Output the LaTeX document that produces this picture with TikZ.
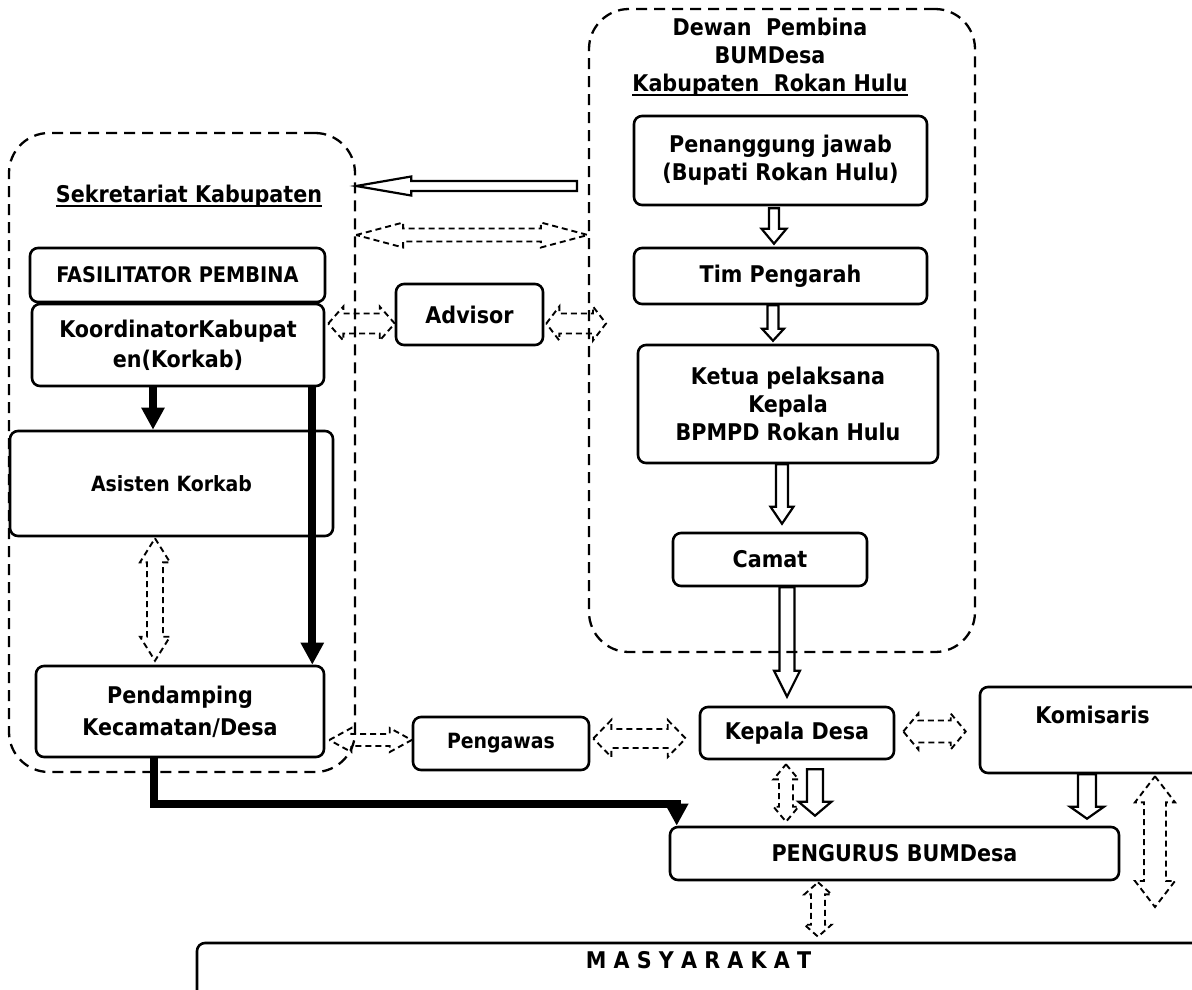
\documentclass[tikz,border=0pt]{standalone}
\usepackage{fontspec}
\setmainfont{DejaVu Sans Condensed}[BoldFont={DejaVu Sans Condensed Bold}]
\usetikzlibrary{calc,arrows.meta}
\newsavebox{\ulbox}
\newcommand{\myulb}[1]{\sbox\ulbox{#1}\rlap{\rule[-5pt]{\wd\ulbox}{2pt}}\usebox\ulbox}
% hollow single arrow pointing down: #1 start, #2 end (only y used), #3 shaft half, #4 head half, #5 head length, #6 style
\newcommand{\blkdown}[6]{\draw[#6] let \p1=#1, \p2=#2 in (\x1-#3pt,\y1) -- (\x1-#3pt,\y2+#5pt) -- (\x1-#4pt,\y2+#5pt) -- (\x1,\y2) -- (\x1+#4pt,\y2+#5pt) -- (\x1+#3pt,\y2+#5pt) -- (\x1+#3pt,\y1) -- cycle;}
% hollow single arrow pointing left: #1 start (right), #2 tip (only x used)
\newcommand{\blkleft}[6]{\draw[#6] let \p1=#1, \p2=#2 in (\x1,\y1+#3pt) -- (\x2+#5pt,\y1+#3pt) -- (\x2+#5pt,\y1+#4pt) -- (\x2,\y1) -- (\x2+#5pt,\y1-#4pt) -- (\x2+#5pt,\y1-#3pt) -- (\x1,\y1-#3pt) -- cycle;}
% double headed horizontal: #1 left tip, #2 right tip (only x used)
\newcommand{\dblh}[6]{\draw[#6] let \p1=#1, \p2=#2 in (\x1,\y1) -- (\x1+#5pt,\y1+#4pt) -- (\x1+#5pt,\y1+#3pt) -- (\x2-#5pt,\y1+#3pt) -- (\x2-#5pt,\y1+#4pt) -- (\x2,\y1) -- (\x2-#5pt,\y1-#4pt) -- (\x2-#5pt,\y1-#3pt) -- (\x1+#5pt,\y1-#3pt) -- (\x1+#5pt,\y1-#4pt) -- cycle;}
% double headed vertical: #1 top tip, #2 bottom tip (only y used)
\newcommand{\dblv}[6]{\draw[#6] let \p1=#1, \p2=#2 in (\x1,\y1) -- (\x1+#4pt,\y1-#5pt) -- (\x1+#3pt,\y1-#5pt) -- (\x1+#3pt,\y2+#5pt) -- (\x1+#4pt,\y2+#5pt) -- (\x1,\y2) -- (\x1-#4pt,\y2+#5pt) -- (\x1-#3pt,\y2+#5pt) -- (\x1-#3pt,\y1-#5pt) -- (\x1-#4pt,\y1-#5pt) -- cycle;}
\begin{document}
\begin{tikzpicture}[x=1pt,y=-1pt,
  box/.style={draw, line width=2.6pt, rounded corners=8pt, align=center, inner sep=0pt,
    font=\bfseries\fontsize{23}{29}\selectfont},
  container/.style={draw, line width=2.3pt, dash pattern=on 11pt off 7pt, rounded corners=40pt, inner sep=0pt},
  ttl/.style={font=\bfseries\fontsize{23}{28}\selectfont, inner sep=0pt},
  hollow/.style={draw, line width=2.2pt, line join=miter},
  dashar/.style={draw, line width=1.9pt, dash pattern=on 6pt off 4pt, line join=miter},
  thickar/.style={draw, line width=8pt, line join=miter, -{Triangle[length=22pt,width=22pt]}}]
\useasboundingbox (0,0) rectangle (1192,989);
\clip (0,0) rectangle (1192,989);

% containers
\node[container, minimum width=346pt, minimum height=639pt] (sek) at (182,452.5) {};
\node[container, minimum width=386pt, minimum height=643pt] (dewan) at (782,330.5) {};

% titles
\node[ttl, anchor=base] (sektitle) at (189,202) {\myulb{Sekretariat Kabupaten}};
\node[ttl, anchor=base] (dt1) at (770,35) {Dewan\ \ Pembina};
\node[ttl, anchor=base] (dt2) at (770,63) {BUMDesa};
\node[ttl, anchor=base] (dt3) at (770,91) {\myulb{Kabupaten\ \ Rokan Hulu}};

% boxes
\node[box, minimum width=295pt, minimum height=54pt, font=\bfseries\fontsize{21.5}{26}\selectfont] (fasil) at (177.5,275) {FASILITATOR PEMBINA};
\node[box, minimum width=292pt, minimum height=82pt, font=\bfseries\fontsize{23}{30}\selectfont] (korkab) at (178,345) {KoordinatorKabupat\\en(Korkab)};
\node[box, minimum width=323pt, minimum height=105pt, font=\bfseries\fontsize{21}{26}\selectfont] (asisten) at (171.5,483.5) {Asisten Korkab};
\node[box, minimum width=288pt, minimum height=91pt, font=\bfseries\fontsize{23}{32}\selectfont] (pend) at (180,711.5) {Pendamping\\Kecamatan/Desa};
\node[box, minimum width=147pt, minimum height=61pt] (advisor) at (469.5,314.5) {Advisor};
\node[box, minimum width=293pt, minimum height=89pt, font=\bfseries\fontsize{23}{28}\selectfont] (penang) at (780.5,160.5) {Penanggung jawab\\(Bupati Rokan Hulu)};
\node[box, minimum width=293pt, minimum height=56pt] (tim) at (780.5,276) {Tim Pengarah};
\node[box, minimum width=300pt, minimum height=118pt, font=\bfseries\fontsize{23}{28}\selectfont] (ketua) at (788,404) {Ketua pelaksana\\Kepala\\BPMPD Rokan Hulu};
\node[box, minimum width=194pt, minimum height=53pt] (camat) at (770,559.5) {Camat};
\node[box, minimum width=194pt, minimum height=52pt] (kepala) at (797,733) {Kepala Desa};
\node[box, minimum width=176pt, minimum height=53pt, font=\bfseries\fontsize{21}{26}\selectfont] (pengawas) at (501,743.5) {Pengawas};
\node[box, minimum width=449pt, minimum height=53pt] (peng) at (894.5,853.5) {PENGURUS BUMDesa};
\node[box, minimum width=225pt, text height=36.5pt, text depth=49.5pt] (komis) at (1092.5,730) {Komisaris};
\node[box, minimum width=1003pt, text height=25pt, text depth=72pt] (masy) at (698.5,991.5) {M A S Y A R A K A T};

% free ends
\coordinate (bigA) at (577,186);
\coordinate (topy) at (470,235);
\coordinate (advR) at (606,323.5);
\coordinate (rvB) at (1155,907);

% big hollow arrow to Sekretariat
\blkleft{(bigA)}{(sek.east)}{5}{9.5}{55}{hollow}
% hollow down arrows
\blkdown{([xshift=-6.5pt,yshift=-2pt]penang.south)}{([yshift=3pt]tim.north)}{5}{12.5}{15}{hollow}
\blkdown{([xshift=-7.5pt]tim.south)}{([yshift=3pt]ketua.north)}{5.5}{11}{12}{hollow}
\blkdown{([xshift=-6pt]ketua.south)}{([yshift=8pt]camat.north)}{6}{11.5}{17}{hollow}
\blkdown{([xshift=17pt]camat.south)}{([yshift=9pt]kepala.north)}{7.5}{13}{26}{hollow}
\blkdown{([xshift=18pt,yshift=-9pt]kepala.south)}{([yshift=10pt]peng.north)}{8}{16.5}{14}{hollow}
\blkdown{([xshift=-5.5pt]komis.south)}{([yshift=7pt]peng.north)}{9}{17}{12}{hollow}

% dashed double arrows
\dblh{(sek.east |- topy)}{(dewan.west)}{6.5}{12.5}{47}{dashar}
\dblh{([xshift=3pt,yshift=21.5pt]korkab.east)}{(advisor.west)}{10}{17}{15}{dashar}
\dblh{([xshift=2pt,yshift=-9pt]advisor.east)}{(advR)}{10}{17}{13}{dashar}
\dblh{([xshift=4pt,yshift=-28.5pt]pend.east)}{(pengawas.west)}{6}{12}{22}{dashar}
\dblh{([xshift=3pt,yshift=5pt]pengawas.east)}{([xshift=-13pt]kepala.west)}{9.5}{18.5}{18}{dashar}
\dblh{([xshift=8pt,yshift=1.5pt]kepala.east)}{([xshift=-13pt]komis.west)}{11}{18}{15}{dashar}
\dblv{([xshift=-16.5pt,yshift=-1pt]asisten.south)}{([yshift=4pt]pend.north)}{8}{15}{24}{dashar}
\dblv{([xshift=-11pt,yshift=-4pt]kepala.south)}{([yshift=4pt]peng.north)}{7}{12.5}{15}{dashar}
\dblv{([xshift=-76.5pt,yshift=-1pt]peng.south)}{([yshift=5pt]masy.north)}{7}{13.5}{12}{dashar}
\dblv{([xshift=62.5pt,yshift=-2pt]komis.south)}{(rvB)}{11}{20}{26}{dashar}

% thick black arrows
\draw[thickar] let \p1=([xshift=-25pt]korkab.south), \p2=(asisten.north) in (\p1) -- (\x1,\y2);
\draw[thickar] let \p1=([xshift=-13pt]korkab.south east), \p2=(pend.north) in (\p1) -- (\x1,\y2);
\draw[thickar] let \p1=([xshift=-26pt]pend.south), \p2=([xshift=8pt]peng.north west) in (\p1) -- (\x1,\y1-46pt) -- (\x2,\y1-46pt) -- (\p2);
\end{tikzpicture}
\end{document}
